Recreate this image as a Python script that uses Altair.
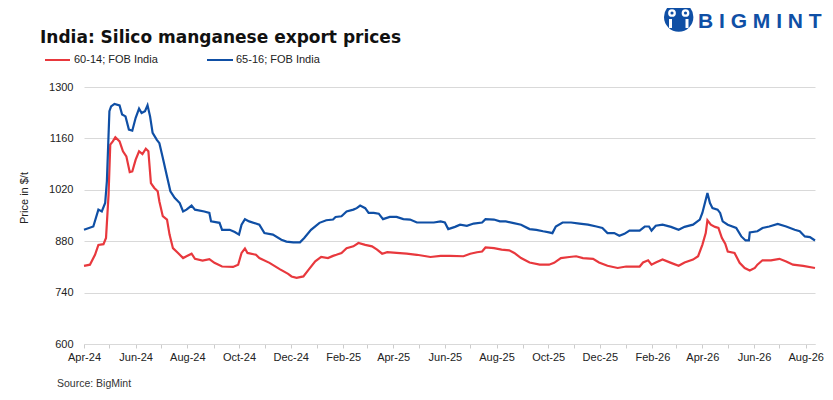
import altair as alt
import pandas as pd

series_names = ["60-14; FOB India", "65-16; FOB India"]
series_colors = ["#e8383d", "#0f4fa5"]

red_dates = [
    "2024-04-01", "2024-04-08", "2024-04-14", "2024-04-18", "2024-04-24", "2024-04-27", "2024-04-30", "2024-05-02", "2024-05-05", "2024-05-08",
    "2024-05-13", "2024-05-17", "2024-05-21", "2024-05-25", "2024-05-28", "2024-06-01", "2024-06-05", "2024-06-09", "2024-06-13", "2024-06-16",
    "2024-06-19", "2024-06-23", "2024-06-27", "2024-06-29", "2024-07-03", "2024-07-08", "2024-07-11", "2024-07-15", "2024-07-21", "2024-07-27",
    "2024-07-31", "2024-08-06", "2024-08-10", "2024-08-19", "2024-08-27", "2024-09-02", "2024-09-11", "2024-09-24", "2024-09-30", "2024-10-04",
    "2024-10-08", "2024-10-11", "2024-10-21", "2024-10-25", "2024-11-06", "2024-11-18", "2024-11-28", "2024-12-02", "2024-12-08", "2024-12-16",
    "2024-12-22", "2024-12-30", "2025-01-06", "2025-01-14", "2025-01-20", "2025-01-24", "2025-01-30", "2025-02-05", "2025-02-13", "2025-02-19",
    "2025-02-27", "2025-03-07", "2025-03-13", "2025-03-19", "2025-03-25", "2025-04-05", "2025-04-17", "2025-04-29", "2025-05-15", "2025-05-27",
    "2025-06-07", "2025-06-23", "2025-07-01", "2025-07-09", "2025-07-15", "2025-07-19", "2025-07-29", "2025-08-07", "2025-08-16", "2025-08-22",
    "2025-08-30", "2025-09-09", "2025-09-21", "2025-10-02", "2025-10-08", "2025-10-16", "2025-10-26", "2025-11-03", "2025-11-11", "2025-11-23",
    "2025-11-30", "2025-12-10", "2025-12-22", "2026-01-01", "2026-01-17", "2026-01-21", "2026-01-27", "2026-01-31", "2026-02-05", "2026-02-13",
    "2026-02-23", "2026-03-04", "2026-03-11", "2026-03-21", "2026-03-27", "2026-04-01", "2026-04-05", "2026-04-07", "2026-04-11", "2026-04-16",
    "2026-04-20", "2026-04-24", "2026-04-28", "2026-05-01", "2026-05-09", "2026-05-15", "2026-05-21", "2026-05-27", "2026-06-02", "2026-06-05",
    "2026-06-11", "2026-06-21", "2026-07-01", "2026-07-09", "2026-07-17", "2026-07-29", "2026-08-12",
]
red_vals = [
    813, 816, 843, 870, 872, 889, 1007, 1143, 1152, 1163,
    1152, 1125, 1111, 1068, 1070, 1102, 1125, 1117, 1132, 1125,
    1038, 1025, 1016, 988, 948, 939, 898, 861, 848, 834,
    839, 846, 832, 827, 831, 821, 811, 810, 816, 848,
    860, 848, 843, 834, 821, 804, 791, 784, 780, 784,
    802, 825, 837, 834, 840, 843, 848, 861, 866, 875,
    870, 866, 857, 846, 850, 848, 846, 843, 837, 840,
    840, 839, 846, 850, 852, 863, 861, 857, 855, 848,
    834, 822, 816, 816, 821, 834, 837, 839, 834, 832,
    822, 813, 807, 811, 811, 822, 828, 816, 822, 830,
    821, 813, 822, 830, 839, 870, 902, 937, 925, 919,
    916, 889, 873, 852, 848, 821, 807, 800, 807, 816,
    828, 828, 832, 825, 816, 813, 807,
]

blue_dates = [
    "2024-04-01", "2024-04-12", "2024-04-18", "2024-04-22", "2024-04-26", "2024-04-28", "2024-05-01", "2024-05-03", "2024-05-07", "2024-05-13",
    "2024-05-16", "2024-05-20", "2024-05-24", "2024-05-28", "2024-06-01", "2024-06-05", "2024-06-08", "2024-06-12", "2024-06-15", "2024-06-18",
    "2024-06-21", "2024-06-26", "2024-06-29", "2024-07-03", "2024-07-08", "2024-07-12", "2024-07-17", "2024-07-23", "2024-07-27", "2024-07-31",
    "2024-08-06", "2024-08-10", "2024-08-21", "2024-08-27", "2024-08-29", "2024-09-08", "2024-09-11", "2024-09-20", "2024-09-26", "2024-10-01",
    "2024-10-04", "2024-10-08", "2024-10-13", "2024-10-25", "2024-10-31", "2024-11-10", "2024-11-20", "2024-11-26", "2024-12-04", "2024-12-12",
    "2024-12-17", "2024-12-25", "2025-01-04", "2025-01-12", "2025-01-20", "2025-01-23", "2025-01-30", "2025-02-05", "2025-02-13", "2025-02-17",
    "2025-02-21", "2025-02-27", "2025-03-03", "2025-03-09", "2025-03-15", "2025-03-20", "2025-03-28", "2025-04-05", "2025-04-13", "2025-04-21",
    "2025-04-29", "2025-05-11", "2025-05-19", "2025-05-27", "2025-06-01", "2025-06-05", "2025-06-13", "2025-06-19", "2025-06-27", "2025-07-05",
    "2025-07-15", "2025-07-19", "2025-07-29", "2025-08-05", "2025-08-12", "2025-08-20", "2025-08-30", "2025-09-09", "2025-09-17", "2025-09-25",
    "2025-10-02", "2025-10-06", "2025-10-10", "2025-10-18", "2025-10-28", "2025-11-07", "2025-11-17", "2025-11-27", "2025-12-04", "2025-12-10",
    "2025-12-18", "2025-12-24", "2025-12-30", "2026-01-05", "2026-01-17", "2026-01-23", "2026-01-28", "2026-01-31", "2026-02-05", "2026-02-13",
    "2026-02-23", "2026-03-04", "2026-03-11", "2026-03-21", "2026-03-29", "2026-04-01", "2026-04-05", "2026-04-07", "2026-04-10", "2026-04-13",
    "2026-04-19", "2026-04-22", "2026-04-25", "2026-05-01", "2026-05-11", "2026-05-17", "2026-05-22", "2026-05-26", "2026-05-27", "2026-06-05",
    "2026-06-11", "2026-06-19", "2026-06-29", "2026-07-09", "2026-07-19", "2026-07-25", "2026-07-31", "2026-08-06", "2026-08-12",
]
blue_vals = [
    911, 920, 966, 961, 984, 1043, 1234, 1247, 1254, 1250,
    1225, 1220, 1184, 1181, 1216, 1241, 1229, 1234, 1250, 1220,
    1175, 1156, 1147, 1107, 1056, 1016, 998, 984, 961, 966,
    977, 966, 961, 957, 934, 930, 911, 911, 905, 898,
    925, 940, 934, 925, 902, 898, 884, 879, 877, 877,
    889, 911, 930, 937, 939, 946, 948, 961, 966, 970,
    977, 970, 957, 957, 955, 940, 946, 946, 940, 939,
    931, 931, 931, 934, 931, 913, 919, 925, 922, 928,
    931, 940, 939, 934, 934, 930, 925, 913, 911, 907,
    904, 902, 920, 931, 931, 928, 925, 920, 916, 902,
    902, 895, 900, 909, 909, 920, 920, 909, 922, 925,
    919, 911, 919, 925, 939, 957, 993, 1011, 984, 970,
    966, 957, 934, 925, 916, 893, 882, 882, 904, 907,
    916, 920, 927, 920, 911, 907, 893, 891, 882,
]

y_ticks = [600, 740, 880, 1020, 1160, 1300]

df = pd.DataFrame({
    "date": pd.to_datetime(red_dates + blue_dates),
    "value": red_vals + blue_vals,
    "series": [series_names[0]] * len(red_dates) + [series_names[1]] * len(blue_dates),
})

FONT = "Liberation Sans"
one = pd.DataFrame({"k": [0]})

lines = alt.Chart(df).mark_line(strokeWidth=2.2).encode(
    x=alt.X(
        "date:T",
        scale=alt.Scale(domain=[alt.DateTime(year=2024, month=4, date=1),
                                alt.DateTime(year=2026, month=8, date=12)]),
        axis=alt.Axis(
            title=None, grid=False,
            tickCount={"interval": "month", "step": 1},
            labelExpr="month(datum.value) % 2 == 1 ? timeFormat(datum.value, '%b-%y') : ''",
            labelOverlap=False, labelFlush=False,
            domainColor="#d9d9d9", tickColor="#cccccc", tickSize=4,
            labelFont=FONT, labelFontSize=11, labelColor="#222222", labelPadding=3,
        ),
    ),
    y=alt.Y(
        "value:Q",
        scale=alt.Scale(domain=[600, 1300], nice=False, zero=False),
        axis=alt.Axis(
            title=None, values=y_ticks, grid=True, gridColor="#d9d9d9", format="d",
            domain=False, ticks=False, labelPadding=11,
            labelFont=FONT, labelFontSize=11, labelColor="#222222",
        ),
    ),
    color=alt.Color("series:N", scale=alt.Scale(domain=series_names, range=series_colors), legend=None),
)


def txt(x, y, s, size=11, weight="normal", color="#222222", align="left", baseline="middle", angle=0, font=FONT):
    kw = dict(font=font, fontSize=size, fontWeight=weight, color=color, align=align, baseline=baseline)
    if angle:
        kw["angle"] = angle
    return alt.Chart(one).mark_text(**kw).encode(x=alt.value(x), y=alt.value(y), text=alt.value(s))


def hrule(x1, x2, y, color, w=2):
    return alt.Chart(one).mark_rule(color=color, strokeWidth=w).encode(
        x=alt.value(x1), x2=alt.value(x2), y=alt.value(y))


def vrule(x, y1, y2, color, w=2):
    return alt.Chart(one).mark_rule(color=color, strokeWidth=w).encode(
        x=alt.value(x), y=alt.value(y1), y2=alt.value(y2))


def dot(x, y, size, color):
    return alt.Chart(one).mark_point(shape="circle", filled=True, opacity=1, size=size, color=color).encode(
        x=alt.value(x), y=alt.value(y))


logo_blue = "#0f4fa5"
decor = [
    txt(-44, -44, "India: Silico manganese export prices", size=17, weight="bold", color="#111111",
        baseline="alphabetic", font="DejaVu Sans"),
    hrule(-39, -14, -27, series_colors[0]),
    txt(-10, -27, series_names[0]),
    hrule(123, 149, -27, series_colors[1]),
    txt(152, -27, series_names[1]),
    txt(-59, 111, "Price in $/t", align="center", angle=270),
    txt(-27, 297, "Source: BigMint", size=10.5, color="#333333"),
    dot(594.7, -70, 864, logo_blue),
    vrule(586.5, -68, -59, "white", 3),
    vrule(603, -68, -59, "white", 3),
    dot(588, -74, 60, "white"),
    dot(601.5, -74, 60, "white"),
    dot(588, -74, 10, logo_blue),
    dot(601.5, -74, 10, logo_blue),
    txt(614, -59, "B I G M I N T", size=21, weight="bold", color=logo_blue, baseline="alphabetic"),
]

chart = alt.layer(lines, *decor).properties(
    width=731, height=257,
    padding={"left": 76, "top": 79, "right": 10, "bottom": 48},
    autosize=alt.AutoSizeParams(type="none"),
).configure_view(stroke=None)

chart.save("out.html", embed_options={"renderer": "svg", "actions": False})
